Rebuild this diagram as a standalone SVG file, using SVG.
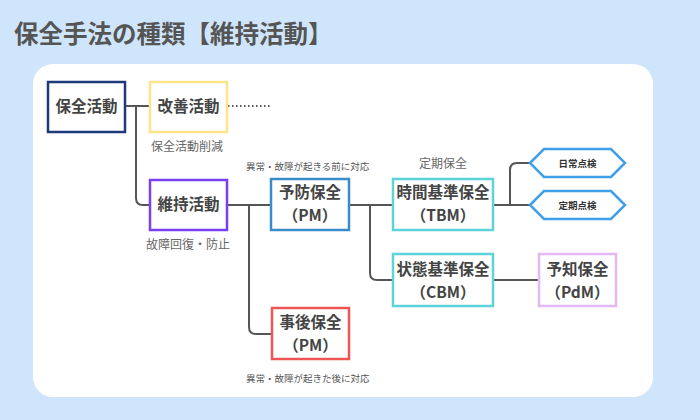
<svg xmlns="http://www.w3.org/2000/svg" width="700" height="420" viewBox="0 0 700 420">
<style>
.n{fill:#fff;stroke-width:2.5}
.t{font-family:"Noto Sans CJK JP","Noto Sans",sans-serif;font-weight:bold;font-size:15.5px;fill:#444;text-anchor:middle}
.h{font-family:"Noto Sans CJK JP","Noto Sans",sans-serif;font-weight:bold;font-size:9.5px;fill:#333;text-anchor:middle}
.l{font-family:"Noto Sans CJK JP","Noto Sans",sans-serif;font-size:12px;fill:#666}
.s{font-family:"Noto Sans CJK JP","Noto Sans",sans-serif;font-size:9.5px;fill:#555}
.c{fill:none;stroke:#555;stroke-width:2}
</style>
<rect width="700" height="420" fill="#cfe5fb"/>
<text x="14" y="43" font-family="'Noto Sans CJK JP','Noto Sans',sans-serif" font-weight="bold" font-size="24.5" fill="#555">保全手法の種類【維持活動】</text>
<rect x="33" y="64" width="620" height="333" rx="20" fill="#fff"/>
<g id="connectors">
<path class="c" d="M125,106 H150 M136,106 V198 Q136,205 143,205 H150"/>
<path class="c" d="M228,106 H271" stroke-dasharray="1.5 2.5" stroke-width="1.5"/>
<path class="c" d="M227,205 H271 M249,205 V327 Q249,334 256,334 H272"/>
<path class="c" d="M349,205 H392 M370,205 V273 Q370,280 377,280 H393"/>
<path class="c" d="M493,280 H539"/>
<path class="c" d="M493,205 H530 M510,205 V170 Q510,163 517,163 H530"/>
</g>
<g id="hozen">
<rect class="n" x="48" y="82" width="77" height="50" stroke="#1e3a7a"/>
<text class="t" x="86.5" y="112">保全活動</text>
</g>
<g id="kaizen">
<rect class="n" x="150" y="82" width="77" height="50" stroke="#ffe38a"/>
<text class="t" x="188.5" y="112">改善活動</text>
<text class="l" x="151" y="151">保全活動削減</text>
</g>
<g id="iji">
<rect class="n" x="150" y="180" width="77" height="50" stroke="#7b3ff2"/>
<text class="t" x="188.5" y="210">維持活動</text>
<text class="l" x="146" y="249">故障回復・防止</text>
</g>
<g id="yobou">
<rect class="n" x="271" y="179" width="78" height="51" stroke="#3a8cc9"/>
<text class="t" x="310" y="198">予防保全</text>
<text class="t" x="310" y="221">（PM）</text>
<text class="s" x="246" y="170">異常・故障が起きる前に対応</text>
</g>
<g id="tbm">
<rect class="n" x="393" y="179" width="100" height="51" stroke="#5ed3d8"/>
<text class="t" x="443" y="198">時間基準保全</text>
<text class="t" x="443" y="221">（TBM）</text>
<text class="l" x="443" y="168" text-anchor="middle">定期保全</text>
</g>
<g id="nichijo">
<polygon points="530,163 544,149 611,149 625,163 611,177 544,177" fill="#fff" stroke="#3fa0e8" stroke-width="2.5"/>
<text class="h" x="577.5" y="166.5">日常点検</text>
</g>
<g id="teiki">
<polygon points="530,205 544,191 611,191 625,205 611,219 544,219" fill="#fff" stroke="#3fa0e8" stroke-width="2.5"/>
<text class="h" x="577.5" y="208.5">定期点検</text>
</g>
<g id="cbm">
<rect class="n" x="393" y="254" width="100" height="52" stroke="#5ed3d8"/>
<text class="t" x="443" y="275">状態基準保全</text>
<text class="t" x="443" y="298">（CBM）</text>
</g>
<g id="pdm">
<rect class="n" x="539" y="254" width="77" height="52" stroke="#e5b8f5"/>
<text class="t" x="577.5" y="275">予知保全</text>
<text class="t" x="577.5" y="298">（PdM）</text>
</g>
<g id="jigo">
<rect class="n" x="272" y="308" width="77" height="51" stroke="#f05555"/>
<text class="t" x="310.5" y="328">事後保全</text>
<text class="t" x="310.5" y="351">（PM）</text>
<text class="s" x="246" y="382">異常・故障が起きた後に対応</text>
</g>
</svg>
